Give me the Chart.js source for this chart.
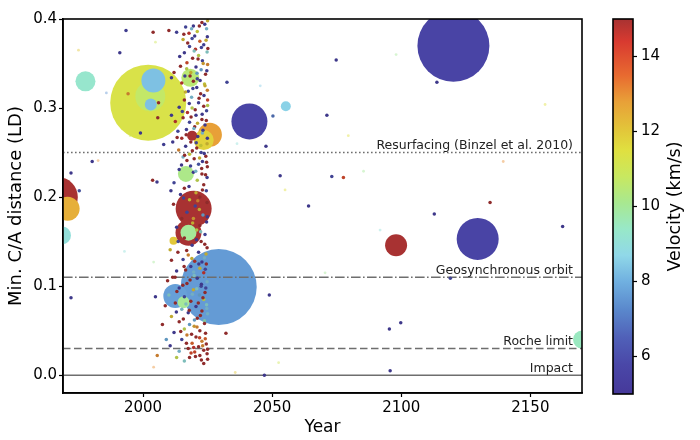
<!DOCTYPE html>
<html>
<head>
<meta charset="utf-8">
<script src="https://cdn.jsdelivr.net/npm/chart.js@4.4.1/dist/chart.umd.min.js"></script>
<style>
  html, body { margin: 0; padding: 0; background: #fff; }
  #wrap { position: relative; width: 700px; height: 440px; }
  #main { position: absolute; left: 0; top: 0; }
  #cbar { position: absolute; left: 600px; top: 0; }
</style>
</head>
<body>
<div id="wrap">
  <canvas id="main" width="600" height="440"></canvas>
  <canvas id="cbar" width="100" height="440"></canvas>
</div>
<script>
"use strict";

// Axis ranges and ticks
const xMin = 1969;
const xMax = 2170;
const yMin = -0.02;
const yMax = 0.4;
const xTicks = [2000, 2050, 2100, 2150];
const yTicks = [0, 0.1, 0.2, 0.3, 0.4];
const cbMin = 5;
const cbMax = 15;
const cbTicks = [6, 8, 10, 12, 14];

// Reference distances (LD)
const refLevels = [0.25, 0.11, 0.03, 0];
const refLabels = ["Resurfacing (Binzel et al. 2010)", "Geosynchronous orbit", "Roche limit", "Impact"];

// Large objects: year, min distance (LD), velocity (km/s), size
const bubbleYear = [2002.0, 2029.3, 2120.2, 2129.6, 1967.0, 2041.2, 2019.6, 2002.8, 2017.6, 2025.9,
  2004.0, 2012.5, 2098.0, 1970.8, 2023.5, 1977.7, 2018.3, 2170.0, 1968.6,
  2017.6, 2016.6, 2015.7, 2003.0, 2055.3, 2019.0, 2011.8];
const bubbleDist = [0.306, 0.099, 0.370, 0.153, 0.200, 0.285, 0.187, 0.313, 0.160, 0.270,
  0.331, 0.089, 0.146, 0.187, 0.264, 0.330, 0.334, 0.040, 0.157,
  0.160, 0.226, 0.082, 0.304, 0.302, 0.269, 0.151];
const bubbleVel = [11.3, 7.6, 5.6, 5.6, 15, 5.6, 15, 10.7, 15, 12.8,
  8.3, 7.7, 15, 12.5, 11.8, 9.3, 10.5, 9.5, 9.0,
  10.0, 10.2, 10.0, 8.3, 8.6, 15, 12.0];
const bubbleSize = [38, 38, 36, 21, 20, 18, 18, 15, 13, 12,
  12, 12, 11, 12, 10, 10, 9, 9, 9,
  8, 8, 6, 6, 5, 5, 4];

// Close approaches in the recent-survey cloud
const cloudYear = [
  2025.0, 2022.8, 2019.5, 2016.5, 2024.6, 2021.0, 2017.8, 2013.0, 2010.0, 2024.9,
  2019.0, 2015.5, 2022.0, 2023.5, 2018.0, 2020.3, 2024.8, 2016.0, 2021.5, 2019.2,
  2023.0, 2017.0, 2025.0, 2020.5, 2014.5, 2022.5, 2018.5, 2024.2, 2016.2, 2021.0,
  2019.5, 2023.8, 2015.0, 2020.8, 2024.9, 2017.5, 2022.3, 2018.8, 2025.0, 2016.0,
  2021.5, 2023.5, 2019.0, 2014.0, 2024.6, 2017.2, 2020.5, 2015.5, 2022.8, 2018.0,
  2012.5, 2024.0, 2020.0, 2016.8, 2013.5, 2023.0, 2021.2, 2015.0, 2018.5, 2024.8,
  2011.5, 2016.5, 2020.8, 2013.8, 2022.5, 2018.0, 2024.3, 2015.5, 2019.8, 2023.0,
  2017.0, 2021.5, 2024.9, 2014.0, 2019.5, 2022.8, 2024.8, 2021.0, 2012.0, 2023.5,
  2016.0, 2024.5, 2020.5, 2014.5, 2022.0, 2018.0, 2024.8, 2020.2, 2021.8, 2017.0,
  2023.2, 2019.5, 2015.0, 2024.6, 2022.0, 2013.0, 2020.8, 2024.0, 2016.0, 2022.5,
  2019.0, 2024.8, 2010.5, 2013.5, 2021.5, 2017.5, 2023.8, 2015.5, 2020.0, 2011.0,
  2024.5, 2018.5, 2022.0, 2016.5, 2013.0, 2023.5, 2019.8, 2021.0, 2009.5, 2024.8,
  2017.0, 2022.5, 2014.0, 2019.5, 2024.0, 2010.0, 2021.8, 2016.0, 2023.5, 2018.5,
  2012.5, 2024.6, 2020.5, 2015.0, 2022.8, 2025.0, 2017.5, 2011.0, 2021.0, 2023.8,
  2014.0, 2018.0, 2019.8, 2016.0, 2022.0, 2012.0, 2024.2, 2017.0, 2020.5, 2015.0,
  2022.8, 2019.0, 2024.5, 2010.5, 2021.5, 2017.5, 2023.5, 2014.0, 2020.0, 2024.8,
  2022.0, 2018.0, 2025.0, 2016.0, 2023.5,
  2023.9, 2021.8, 2018.8, 2015.8, 2024.4, 2020.0, 2017.3, 2022.6, 2019.8, 2025.1,
  2014.2, 2021.3, 2023.3, 2016.9, 2024.7, 2018.2, 2020.9, 2022.1, 2012.0, 2024.0,
  2019.3, 2016.4, 2023.6, 2021.7, 2017.9, 2025.0, 2020.2, 2015.2, 2022.9, 2018.6,
  2024.5, 2011.0, 2021.1, 2019.7, 2023.2, 2016.7, 2024.9, 2020.6, 2013.2, 2022.4,
  2019.1, 2023.7, 2016.1, 2021.9, 2024.6, 2018.4, 2014.9, 2022.7, 2020.4, 2024.2,
  2017.8, 2023.0, 2015.7, 2021.2, 2019.2, 2024.9, 2011.8, 2022.3, 2016.9, 2020.7,
  2023.9, 2018.9, 2013.6, 2024.4, 2021.6, 2015.9, 2019.6, 2022.8, 2012.4, 2024.1,
  2018.2, 2022.6, 2015.4, 2020.8, 2024.3, 2013.1, 2019.1, 2023.2, 2016.6, 2021.4,
  2008.6, 2024.7, 2017.9, 2012.9, 2022.2, 2019.9, 2015.6, 2023.8, 2020.9, 2014.6,
  2018.8, 2024.1, 2021.9, 2016.8, 2023.1, 2019.6, 2025.0, 2020.3, 2022.6, 2018.6,
  2007.5, 2005.5, 2009.0, 2011.5, 2013.0];
const cloudDist = [
  0.398, 0.396, 0.392, 0.391, 0.389, 0.386, 0.384, 0.385, 0.387, 0.380,
  0.378, 0.377, 0.375, 0.371, 0.369, 0.366, 0.363, 0.362, 0.359, 0.356,
  0.353, 0.351, 0.349, 0.346, 0.347, 0.343, 0.340, 0.338, 0.336, 0.333,
  0.330, 0.327, 0.328, 0.323, 0.320, 0.319, 0.316, 0.312, 0.309, 0.309,
  0.306, 0.302, 0.300, 0.301, 0.297, 0.295, 0.292, 0.289, 0.287, 0.284,
  0.285, 0.281, 0.279, 0.276, 0.274, 0.272, 0.268, 0.266, 0.262, 0.260,
  0.262, 0.257, 0.255, 0.253, 0.250, 0.248, 0.246, 0.245, 0.243, 0.240,
  0.241, 0.237, 0.234, 0.231, 0.228, 0.226, 0.222, 0.219, 0.216, 0.214,
  0.210, 0.207, 0.205, 0.203, 0.200, 0.197, 0.194, 0.190, 0.186, 0.183,
  0.180, 0.176, 0.176, 0.172, 0.168, 0.166, 0.163, 0.158, 0.154, 0.150,
  0.146, 0.143, 0.141, 0.138, 0.138, 0.135, 0.132, 0.130, 0.128, 0.129,
  0.125, 0.122, 0.120, 0.118, 0.117, 0.115, 0.112, 0.109, 0.106, 0.105,
  0.103, 0.100, 0.098, 0.096, 0.093, 0.090, 0.090, 0.088, 0.085, 0.083,
  0.081, 0.079, 0.077, 0.074, 0.072, 0.069, 0.070, 0.066, 0.064, 0.061,
  0.060, 0.057, 0.055, 0.052, 0.050, 0.048, 0.047, 0.045, 0.043, 0.040,
  0.038, 0.036, 0.035, 0.033, 0.032, 0.030, 0.028, 0.027, 0.026, 0.024,
  0.022, 0.020, 0.018, 0.016, 0.013,
  0.394, 0.392, 0.389, 0.383, 0.376, 0.381, 0.373, 0.368, 0.364, 0.367,
  0.358, 0.355, 0.350, 0.344, 0.342, 0.336, 0.339, 0.331, 0.340, 0.325,
  0.322, 0.318, 0.314, 0.311, 0.305, 0.303, 0.298, 0.296, 0.293, 0.290,
  0.286, 0.292, 0.283, 0.277, 0.275, 0.270, 0.266, 0.261, 0.267, 0.258,
  0.252, 0.249, 0.247, 0.244, 0.239, 0.235, 0.236, 0.232, 0.229, 0.225,
  0.212, 0.208, 0.199, 0.196, 0.171, 0.178, 0.192, 0.161, 0.140, 0.152,
  0.147, 0.131, 0.150, 0.136, 0.125, 0.122, 0.116, 0.127, 0.110, 0.119,
  0.107, 0.102, 0.101, 0.097, 0.098, 0.094, 0.091, 0.087, 0.080, 0.081,
  0.078, 0.075, 0.073, 0.071, 0.067, 0.062, 0.063, 0.058, 0.054, 0.049,
  0.046, 0.041, 0.042, 0.036, 0.033, 0.031, 0.029, 0.021, 0.017, 0.025,
  0.057, 0.022, 0.040, 0.110, 0.020];
const cloudVel = [
  12, 15, 5.5, 6, 8.5, 11.5, 14.5, 5.8, 15, 5.5,
  6.2, 12, 13.5, 5.8, 6, 14.5, 9, 5.5, 11, 15,
  6, 14, 13, 5.5, 15, 8, 12, 15, 5.8, 6,
  15, 11.5, 14.6, 5.5, 13, 6, 15, 8.5, 14, 15,
  5.8, 15, 11, 5.5, 6, 14.5, 5.5, 15, 15, 6,
  14.6, 5.5, 15, 5.8, 6, 8.5, 5.5, 14.7, 15, 12,
  5.5, 5.5, 15, 13, 6, 11.5, 15, 8.5, 15, 5.5,
  15, 6.5, 15, 5.8, 5.5, 15, 5.8, 11, 6, 15,
  15, 6, 12, 5.5, 15, 11.5, 15, 6, 12, 6,
  8, 12.5, 15, 5.5, 15, 5.5, 11, 6, 15, 15,
  5.8, 15, 12, 15, 5.5, 13, 8.5, 6, 14.7, 15,
  15, 5.5, 12, 15, 5.5, 14.5, 8.8, 5.5, 15, 8.5,
  15, 6, 5.5, 12, 15, 9, 8, 6, 11, 15,
  15, 9, 5.5, 8.5, 15, 8.5, 5.5, 12, 15, 9.5,
  15, 8, 12.5, 11, 15, 5.5, 15, 13, 15, 6,
  13, 13.5, 15, 5.5, 15, 15, 15, 8.5, 14, 15,
  15, 15, 15, 9, 15,
  5.5, 15, 8.5, 15, 12, 5.5, 15, 6, 9, 15,
  5.5, 15, 12.5, 11, 5.5, 15, 8, 5.5, 15, 12,
  6, 12, 5.5, 15, 5.5, 11, 15, 6, 5.5, 15,
  15, 5.5, 12, 8.5, 5.5, 15, 5.5, 6, 15, 11.5,
  15, 5.5, 15, 12, 15, 6, 5.5, 15, 8.5, 15,
  5.5, 15, 6, 13, 12, 5.5, 15, 9, 15, 5.5,
  15, 12, 6, 12, 5.5, 15, 8.5, 5.5, 15, 6,
  15, 5.5, 15, 9, 6, 15, 8.5, 15, 9, 15,
  15, 8.5, 15, 5.5, 15, 8, 15, 15, 13, 15,
  15, 13.5, 14, 15, 13, 14.5, 15, 15, 15, 14,
  15, 13, 8, 15, 11];

// Isolated close approaches elsewhere in time
const fieldYear = [
  1993.4, 2003.9, 1991.0, 2011.0, 1994.2, 2006.0, 2005.7, 1999.0, 2008.0, 2032.5,
  2050.3, 2047.6, 2071.2, 2074.8, 1980.3, 1972.1, 1975.3, 2003.7, 2005.4, 2010.8,
  2053.1, 2064.1, 2073.1, 2077.6, 2134.4, 2112.8, 2162.5, 2113.8, 2099.8, 2095.4,
  2095.7, 1972.1, 2048.9, 2032.1, 2047.0, 2004.8, 2119.0];
const fieldDist = [
  0.387, 0.385, 0.362, 0.334, 0.316, 0.306, 0.289, 0.272, 0.259, 0.329,
  0.291, 0.257, 0.292, 0.354, 0.240, 0.227, 0.207, 0.219, 0.217, 0.207,
  0.224, 0.190, 0.223, 0.222, 0.194, 0.181, 0.167, 0.329, 0.059, 0.052,
  0.005, 0.087, 0.090, 0.047, 0.000, 0.088, 0.109];
const fieldVel = [
  5.8, 15, 5.5, 5.5, 13, 15, 15, 5.5, 5.8, 6,
  7, 5.5, 5.5, 5.5, 5.5, 5.5, 6.5, 15, 5.5, 5.5,
  5.5, 5.5, 6, 14, 15, 5.5, 5.5, 5.5, 5.5, 5.5,
  5.5, 5.5, 5.5, 15, 5.5, 5.5, 6];

// Very small, faint objects
const faintYear = [1975.0, 2004.8, 1985.8, 1995.0, 2045.4, 2036.4, 2079.5, 1982.6, 2055.0, 2139.5,
  2091.8, 2098.0, 2155.7, 2085.4, 1992.8, 2004.1, 2035.7, 2052.5, 2070.5, 2004.1];
const faintDist = [0.365, 0.374, 0.317, 0.269, 0.325, 0.260, 0.269, 0.241, 0.208, 0.240,
  0.163, 0.360, 0.304, 0.229, 0.139, 0.009, 0.003, 0.014, 0.115, 0.127];
const faintVel = [12, 11, 7.5, 11, 8.5, 9, 11.5, 13, 11.5, 13,
  9, 10, 11.5, 10, 9, 13, 12, 11, 10, 10];

// Colormap (velocity -> colour)
const cmapStops = [
  [5.0, "#46399a"], [5.8, "#4a48a8"], [6.5, "#5060b8"], [7.25, "#5a88cc"],
  [8.0, "#70b0e0"], [8.7, "#90d8e8"], [9.4, "#98e8c8"], [10.1, "#a8e890"],
  [10.8, "#c8e860"], [11.5, "#e0e040"], [12.0, "#e2c83a"], [12.8, "#e8a038"],
  [13.5, "#e86a30"], [14.4, "#d83a30"], [15.0, "#a83232"],
];

const FONT = "DejaVu Sans";
const DOT_R = 1.75;

function hexToRgb(hex) {
  const n = parseInt(hex.slice(1), 16);
  return [(n >> 16) & 255, (n >> 8) & 255, n & 255];
}

// shade < 1 darkens the colour (small dots read darker in the original)
function velColor(v, alpha = 1, shade = 1) {
  const val = Math.max(cbMin, Math.min(cbMax, v));
  let i = 1;
  while (i < cmapStops.length - 1 && val > cmapStops[i][0]) i++;
  const [v0, c0] = cmapStops[i - 1];
  const [v1, c1] = cmapStops[i];
  const t = (val - v0) / (v1 - v0);
  const a = hexToRgb(c0);
  const b = hexToRgb(c1);
  const rgb = a.map((ch, k) => Math.round((ch + (b[k] - ch) * t) * shade));
  return `rgba(${rgb[0]},${rgb[1]},${rgb[2]},${alpha})`;
}

const bubblePoints = bubbleYear.map((yr, i) => ({ x: yr, y: bubbleDist[i], r: bubbleSize[i] }));
const dotYears = cloudYear.concat(fieldYear);
const dotDists = cloudDist.concat(fieldDist);
const dotVels = cloudVel.concat(fieldVel);
const dotPoints = dotYears.map((yr, i) => ({ x: yr, y: dotDists[i], r: DOT_R }));
const faintPoints = faintYear.map((yr, i) => ({ x: yr, y: faintDist[i], r: 1.4 }));

const refDash = [[1.6, 2.4], [9.6, 2.4, 1.6, 2.4], [7.5, 3.5], []];
const refDatasets = refLevels.map((lv, i) => ({
  type: "line",
  data: [{ x: xMin, y: lv }, { x: xMax, y: lv }],
  borderColor: "#6e6e6e",
  borderWidth: 1.6,
  borderDash: refDash[i],
  pointRadius: 0,
  fill: false,
  order: 2,
  clip: 0,
}));

const tickFont = { family: FONT, size: 15 };

const framePlugin = {
  id: "frame",
  afterDatasetsDraw(chart) {
    const { ctx, chartArea: a, scales } = chart;
    ctx.save();
    ctx.font = `12.5px "${FONT}"`;
    ctx.fillStyle = "#222";
    ctx.textAlign = "right";
    ctx.textBaseline = "alphabetic";
    refLevels.forEach((lv, i) => {
      ctx.fillText(refLabels[i], a.right - 9, scales.y.getPixelForValue(lv) - 3.5);
    });
    ctx.strokeStyle = "#000";
    ctx.lineWidth = 1.6;
    ctx.strokeRect(a.left, a.top, a.right - a.left, a.bottom - a.top);
    ctx.restore();
  },
};

new Chart(document.getElementById("main"), {
  type: "bubble",
  data: {
    datasets: [
      {
        data: dotPoints,
        backgroundColor: dotVels.map((v) => velColor(v, 1, 0.85)),
        borderWidth: 0,
        order: 0,
        clip: 0,
      },
      {
        data: faintPoints,
        backgroundColor: faintVel.map((v) => velColor(v, 0.45)),
        borderWidth: 0,
        order: 1,
        clip: 0,
      },
      ...refDatasets,
      {
        data: bubblePoints,
        backgroundColor: bubbleVel.map((v) => velColor(v)),
        borderWidth: 0,
        order: 3,
        clip: 0,
      },
    ],
  },
  options: {
    responsive: false,
    animation: false,
    events: [],
    layout: { autoPadding: false, padding: { left: 0, top: 19, right: 18, bottom: 0 } },
    plugins: { legend: { display: false }, tooltip: { enabled: false } },
    scales: {
      x: {
        type: "linear",
        min: xMin,
        max: xMax,
        afterBuildTicks: (axis) => {
          axis.ticks = xTicks.map((v) => ({ value: v }));
        },
        afterFit: (s) => {
          s.height = 47;
        },
        ticks: { callback: (v) => String(v), font: tickFont, color: "#000", padding: 2, maxRotation: 0 },
        grid: { drawOnChartArea: false, tickLength: 4, tickColor: "#000", tickWidth: 1.2 },
        border: { color: "#000", width: 1.6 },
        title: { display: true, text: "Year", font: { family: FONT, size: 17 }, color: "#000", padding: { top: 0, bottom: 2 } },
      },
      y: {
        type: "linear",
        min: yMin,
        max: yMax,
        afterBuildTicks: (axis) => {
          axis.ticks = yTicks.map((v) => ({ value: v }));
        },
        afterFit: (s) => {
          s.width = 63;
        },
        ticks: { callback: (v) => v.toFixed(1), font: tickFont, color: "#000", padding: 2 },
        grid: { drawOnChartArea: false, tickLength: 4, tickColor: "#000", tickWidth: 1.2 },
        border: { color: "#000", width: 1.6 },
        title: { display: true, text: "Min. C/A distance (LD)", font: { family: FONT, size: 18 }, color: "#000", padding: { top: 6, bottom: 0 } },
      },
    },
  },
  plugins: [framePlugin],
});

// Colorbar
const cbPlugin = {
  id: "cbFrame",
  afterDraw(chart) {
    const { ctx, chartArea: a } = chart;
    ctx.save();
    ctx.strokeStyle = "#000";
    ctx.lineWidth = 1.6;
    ctx.strokeRect(a.left, a.top, a.right - a.left, a.bottom - a.top);
    ctx.translate(75, (a.top + a.bottom) / 2);
    ctx.rotate(-Math.PI / 2);
    ctx.font = `17.5px "${FONT}"`;
    ctx.fillStyle = "#000";
    ctx.textAlign = "center";
    ctx.textBaseline = "middle";
    ctx.fillText("Velocity (km/s)", 0, 0);
    ctx.restore();
  },
};

new Chart(document.getElementById("cbar"), {
  type: "bar",
  data: {
    labels: [""],
    datasets: [
      {
        data: [[cbMin, cbMax]],
        backgroundColor: (c) => {
          const a = c.chart.chartArea;
          if (!a) return "#888";
          const g = c.chart.ctx.createLinearGradient(0, a.bottom, 0, a.top);
          cmapStops.forEach(([v, col]) => g.addColorStop((v - cbMin) / (cbMax - cbMin), col));
          return g;
        },
        borderWidth: 0,
        barPercentage: 1,
        categoryPercentage: 1,
      },
    ],
  },
  options: {
    responsive: false,
    animation: false,
    events: [],
    layout: { padding: { left: 13, top: 19, right: 0, bottom: 46 } },
    plugins: { legend: { display: false }, tooltip: { enabled: false } },
    scales: {
      x: { display: false },
      y: {
        position: "right",
        min: cbMin,
        max: cbMax,
        afterBuildTicks: (axis) => {
          axis.ticks = cbTicks.map((v) => ({ value: v }));
        },
        afterFit: (s) => {
          s.width = 67;
        },
        ticks: { font: tickFont, color: "#000", padding: 4 },
        grid: { drawOnChartArea: false, tickLength: 4, tickColor: "#000", tickWidth: 1.2 },
        border: { display: false },
      },
    },
  },
  plugins: [cbPlugin],
});
</script>
</body>
</html>
